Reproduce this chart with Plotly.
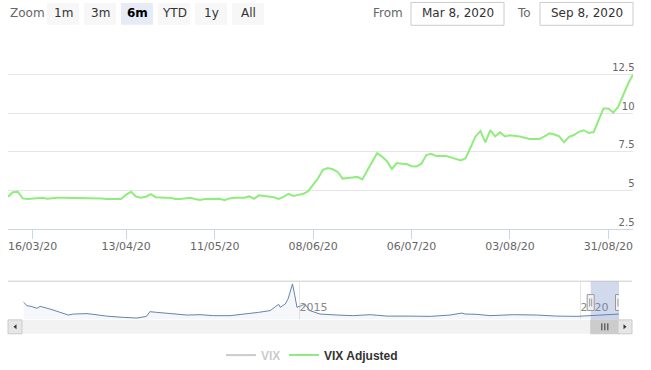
import pandas as pd
import plotly.graph_objects as go

W, H = 651, 370

# ---------------- data ----------------
missing_days = ["2020-04-10", "2020-04-20", "2020-05-04", "2020-09-07"]
trade_days = [d.strftime("%Y-%m-%d") for d in pd.bdate_range("2020-03-09", "2020-09-08")
              if d.strftime("%Y-%m-%d") not in missing_days]

vix_adjusted = [
    4.61, 4.90, 4.93, 4.50, 4.46, 4.50, 4.54, 4.54, 4.48, 4.52,
    4.54, 4.54, 4.54, 4.54, 4.54, 4.54, 4.54, 4.54, 4.54, 4.50,
    4.46, 4.46, 4.46, 4.46, 4.75, 4.93, 4.62, 4.54, 4.61, 4.78,
    4.58, 4.54, 4.54, 4.54, 4.47, 4.46, 4.50, 4.54, 4.46, 4.40,
    4.46, 4.46, 4.50, 4.48, 4.38, 4.50, 4.54, 4.54, 4.54, 4.63,
    4.48, 4.70, 4.66, 4.65, 4.58, 4.47, 4.60, 4.80, 4.66, 4.73,
    4.80, 4.97, 5.40, 5.80, 6.35, 6.46, 6.38, 6.21, 5.78, 5.80,
    5.85, 5.89, 5.73, 6.30, 6.90, 7.42, 7.20, 6.90, 6.40, 6.78,
    6.74, 6.72, 6.58, 6.56, 6.74, 7.30, 7.38, 7.24, 7.24, 7.24,
    7.15, 7.05, 6.95, 7.10, 7.80, 8.50, 8.85, 8.12, 8.91, 8.50,
    8.76, 8.50, 8.58, 8.56, 8.50, 8.42, 8.33, 8.33, 8.33, 8.50,
    8.70, 8.62, 8.50, 8.12, 8.48, 8.59, 8.80, 8.90, 8.72, 8.78,
    9.60, 10.30, 10.30, 10.04, 10.42, 11.20, 11.90, 12.50,
]

tick_dates = ["2020-03-16", "2020-04-13", "2020-05-11", "2020-06-08",
              "2020-07-06", "2020-08-03", "2020-08-31"]
tick_labels = ["16/03/20", "13/04/20", "11/05/20", "08/06/20",
               "06/07/20", "03/08/20", "31/08/20"]

y_ticks = [2.5, 5, 7.5, 10, 12.5, 15]
y_tick_labels = ["2.5", "5", "7.5", "10", "12.5", ""]

vix_dates = [
    "2010-02-03", "2010-02-25", "2010-03-28", "2010-05-01", "2010-05-22", "2010-06-25",
    "2010-07-24", "2010-09-16", "2010-11-20", "2010-12-24", "2011-03-22", "2011-05-01",
    "2011-07-27", "2011-11-13", "2012-02-10", "2012-04-12", "2012-05-04", "2012-06-18",
    "2012-10-05", "2013-01-01", "2013-03-26", "2013-06-21", "2013-10-08", "2014-01-01",
    "2014-04-10", "2014-06-25", "2014-08-08", "2014-08-19", "2014-08-30", "2014-10-01",
    "2014-10-19", "2014-11-17", "2014-12-02", "2014-12-16", "2015-01-15", "2015-02-06",
    "2015-03-10", "2015-05-15", "2015-09-02", "2015-12-17", "2016-04-05", "2016-07-24",
    "2016-12-20", "2017-05-01", "2017-09-06", "2017-11-22", "2017-12-14", "2018-02-28",
    "2018-05-23", "2018-10-23", "2019-03-22", "2019-07-31", "2019-12-09", "2020-03-03",
    "2020-07-13", "2020-08-26", "2020-09-08",
]
vix_values = [
    19.3, 15.5, 14.4, 12.5, 14.7, 13.3,
    11.7, 8.7, 4.9, 6.0, 6.5, 5.7,
    3.7, 2.3, 1.5, 3.4, 8.7, 7.9,
    6.5, 4.9, 5.3, 4.2, 4.2, 5.7,
    7.9, 9.9, 15.5, 17.0, 13.6, 17.3,
    23.0, 40.0, 26.9, 13.6, 15.5, 17.3,
    9.9, 6.0, 4.9, 4.2, 5.3, 3.7,
    3.7, 3.4, 4.9, 7.1, 6.0, 5.7,
    4.2, 5.3, 4.9, 3.7, 3.4, 4.2,
    4.9, 6.0, 6.0,
]
nav_ticks = ["2015-01-01", "2020-01-01"]
nav_tick_labels = ["2015", "2020"]

zoom_buttons = ["1m", "3m", "6m", "YTD", "1y", "All"]
selected_button = "6m"
range_from = "Mar 8, 2020"
range_to = "Sep 8, 2020"
sel_start, sel_end = "2020-03-08", "2020-09-08"

# ---------------- helpers ----------------
FONT = "DejaVu Sans"
def px(p):
    return p / W
def py(p):
    return 1 - p / H

fig = go.Figure()

fig.add_trace(go.Scatter(
    x=vix_dates, y=vix_values, xaxis="x2", yaxis="y2", mode="lines",
    line=dict(color="#6684aa", width=1), fill="tozeroy",
    fillcolor="rgba(51,92,173,0.05)", showlegend=False, hoverinfo="skip"))

fig.add_trace(go.Scatter(
    x=vix_dates, y=vix_values, xaxis="x2", yaxis="y2", mode="lines",
    name="VIX", visible="legendonly", line=dict(color="#999999", width=2),
    legend="legend2"))

fig.add_trace(go.Scatter(
    x=trade_days, y=vix_adjusted, mode="lines", name="VIX Adjusted",
    line=dict(color="#90ed7d", width=2), legend="legend"))

# helper trace so the label axis (y3) is drawn
fig.add_trace(go.Scatter(x=[None], y=[None], yaxis="y3", showlegend=False, hoverinfo="skip"))

shapes = []
annotations = []

# range selector
annotations.append(dict(x=px(8), y=py(13.5), xref="paper", yref="paper", text="Zoom",
                        showarrow=False, xanchor="left", yanchor="middle",
                        font=dict(family=FONT, size=12, color="#666666")))
for i, b in enumerate(zoom_buttons):
    x0 = 47 + 37 * i
    sel = (b == selected_button)
    shapes.append(dict(type="rect", xref="paper", yref="paper", x0=px(x0), x1=px(x0 + 32),
                       y0=py(25), y1=py(3), line=dict(width=0),
                       fillcolor="#e6ebf5" if sel else "#f7f7f7", layer="below"))
    annotations.append(dict(x=px(x0 + 16), y=py(13.5), xref="paper", yref="paper",
                            text="<b>%s</b>" % b if sel else b, showarrow=False,
                            xanchor="center", yanchor="middle",
                            font=dict(family=FONT, size=12, color="#000000" if sel else "#333333")))

annotations.append(dict(x=px(405), y=py(13.5), xref="paper", yref="paper", text="From",
                        showarrow=False, xanchor="right", yanchor="middle",
                        font=dict(family=FONT, size=12, color="#666666")))
annotations.append(dict(x=px(533), y=py(13.5), xref="paper", yref="paper", text="To",
                        showarrow=False, xanchor="right", yanchor="middle",
                        font=dict(family=FONT, size=12, color="#666666")))
for (a, b, t) in [(411, 504, range_from), (540, 633, range_to)]:
    shapes.append(dict(type="rect", xref="paper", yref="paper", x0=px(a), x1=px(b),
                       y0=py(25.5), y1=py(2.5), line=dict(color="#cccccc", width=1),
                       fillcolor="white"))
    annotations.append(dict(x=px((a + b) / 2), y=py(13.5), xref="paper", yref="paper", text=t,
                            showarrow=False, xanchor="center", yanchor="middle",
                            font=dict(family=FONT, size=12, color="#333333")))

# navigator outline
shapes.append(dict(type="line", xref="paper", yref="paper", x0=px(8), x1=px(632),
                   y0=py(283.5), y1=py(283.5), line=dict(color="#cccccc", width=1)))
# selected range mask
shapes.append(dict(type="rect", xref="x2", yref="paper", x0=sel_start, x1=sel_end,
                   y0=py(322), y1=py(283.5), line=dict(width=0),
                   fillcolor="rgba(102,133,194,0.3)"))
# handles
for d in (sel_start, sel_end):
    shapes.append(dict(type="rect", xref="x2", yref="paper", xsizemode="pixel", xanchor=d,
                       x0=-3.5, x1=3.5, y0=py(313), y1=py(297),
                       line=dict(color="#999999", width=1), fillcolor="#f2f2f2"))
    for off in (-1, 1):
        shapes.append(dict(type="line", xref="x2", yref="paper", xsizemode="pixel", xanchor=d,
                           x0=off, x1=off, y0=py(309), y1=py(301),
                           line=dict(color="#999999", width=1)))

# scrollbar
shapes.append(dict(type="rect", xref="paper", yref="paper", x0=px(8), x1=px(632),
                   y0=py(336.5), y1=py(322.5), line=dict(width=0), fillcolor="#f2f2f2"))
shapes.append(dict(type="rect", xref="x2", yref="paper", x0=sel_start, x1=sel_end,
                   y0=py(336.5), y1=py(322.5), line=dict(color="#cccccc", width=1),
                   fillcolor="#cccccc"))
for off in (-3, 0, 3):
    shapes.append(dict(type="line", xref="x2", yref="paper", xsizemode="pixel",
                       xanchor="2020-06-08", x0=off, x1=off, y0=py(333), y1=py(326),
                       line=dict(color="#333333", width=1)))
for (a, b) in [(8, 22), (618, 632)]:
    shapes.append(dict(type="rect", xref="paper", yref="paper", x0=px(a), x1=px(b),
                       y0=py(336.5), y1=py(322.5), line=dict(color="#cccccc", width=1),
                       fillcolor="#e6e6e6"))
shapes.append(dict(type="path", xref="paper", yref="paper",
                   path="M %f,%f L %f,%f L %f,%f Z" % (px(16.5), py(327), px(13.5), py(329.5),
                                                        px(16.5), py(332)),
                   fillcolor="#333333", line=dict(width=0)))
shapes.append(dict(type="path", xref="paper", yref="paper",
                   path="M %f,%f L %f,%f L %f,%f Z" % (px(623.5), py(327), px(626.5), py(329.5),
                                                        px(623.5), py(332)),
                   fillcolor="#333333", line=dict(width=0)))

fig.update_layout(
    width=W, height=H, margin=dict(l=0, r=0, t=0, b=0),
    paper_bgcolor="white", plot_bgcolor="white",
    font=dict(family=FONT, color="#666666"),
    xaxis=dict(type="category", domain=[px(8), px(633)], range=[0, len(trade_days) - 1],
               tickmode="array", tickvals=tick_dates, ticktext=tick_labels,
               ticks="outside", ticklen=9, ticklabeloverflow="allow", ticklabelstandoff=-3,
               tickcolor="#ccd6eb", showline=True, linecolor="#ccd6eb", showgrid=False,
               tickfont=dict(family=FONT, size=11, color="#666666"), anchor="y",
               fixedrange=True, automargin=False),
    yaxis=dict(domain=[py(231.3), py(36)], range=[2.5, 15], side="right",
               tickvals=y_ticks, showticklabels=False,
               showgrid=True, gridcolor="#e6e6e6", zeroline=False, ticks="",
               anchor="x", fixedrange=True, automargin=False),
    yaxis3=dict(overlaying="y", matches="y", anchor="free", position=px(634.5), side="left",
                tickvals=y_ticks, ticktext=y_tick_labels, ticklabelposition="outside top",
                showgrid=False, zeroline=False, ticks="", showline=False,
                tickfont=dict(family=FONT, size=10, color="#666666"),
                fixedrange=True, automargin=False),
    xaxis2=dict(type="date", domain=[px(22), px(619)], range=["2010-01-24", sel_end],
                tickvals=nav_ticks, ticktext=nav_tick_labels, ticklabelposition="inside right",
                showgrid=True, gridcolor="#e6e6e6", ticks="", showline=False, zeroline=False,
                tickfont=dict(family=FONT, size=11, color="#888888"), anchor="y2",
                fixedrange=True, automargin=False),
    yaxis2=dict(domain=[py(322), py(283.5)], range=[0, 43], visible=False, fixedrange=True),
    legend=dict(orientation="h", x=px(284), y=py(358), xanchor="left", yanchor="middle",
                bgcolor="rgba(0,0,0,0)",
                font=dict(family="Liberation Sans", size=12, color="#333333", weight="bold")),
    legend2=dict(orientation="h", x=px(221), y=py(358), xanchor="left", yanchor="middle",
                 bgcolor="rgba(0,0,0,0)",
                 font=dict(family="Liberation Sans", size=12, color="#999999", weight="bold")),
    shapes=shapes, annotations=annotations, hovermode="x",
)

fig.write_html("out.html", config={"displayModeBar": False},
               post_script="document.body.style.margin='0';")
